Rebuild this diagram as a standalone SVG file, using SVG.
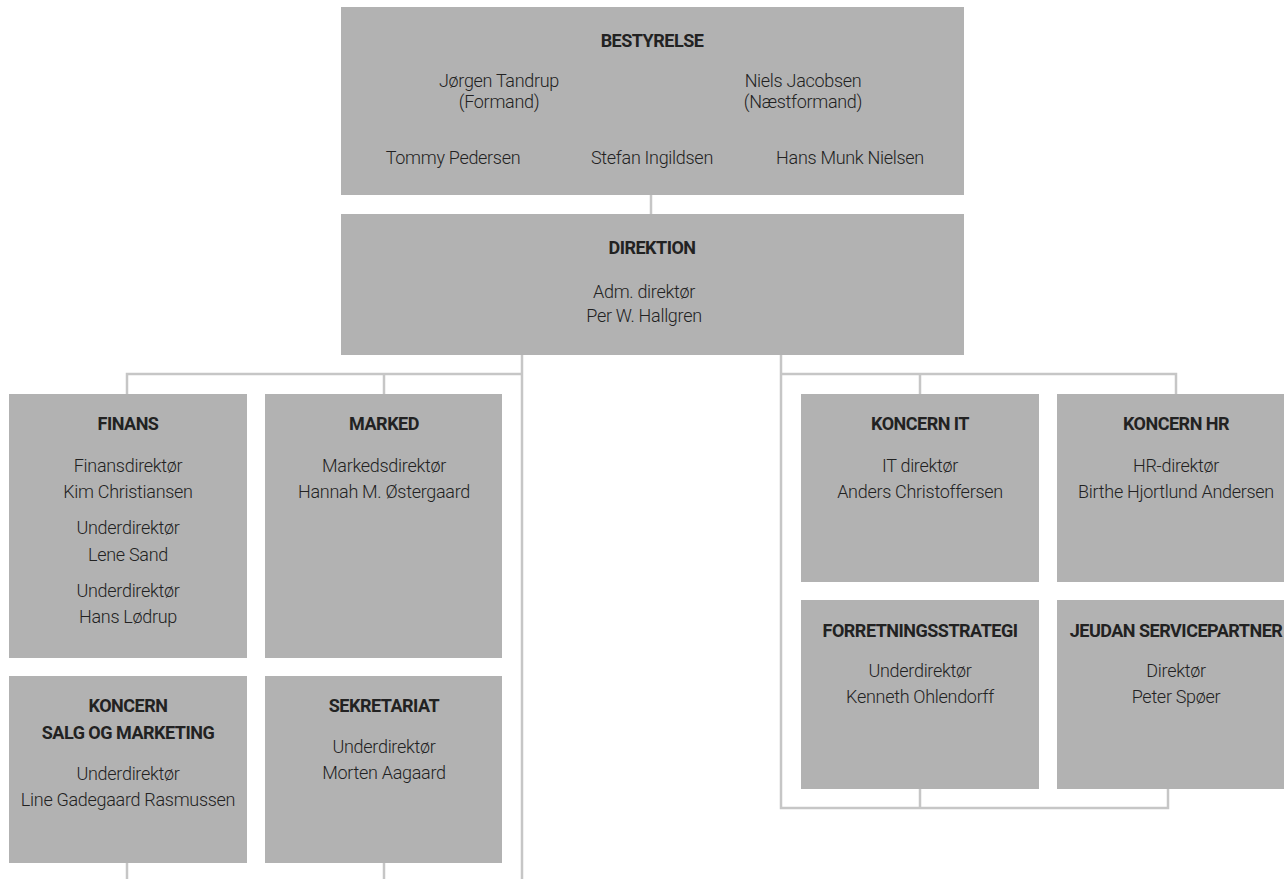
<svg xmlns="http://www.w3.org/2000/svg" width="1284" height="879" viewBox="0 0 1284 879">
<style>
.box{fill:#b2b2b2}
.ln{stroke:#c6c6c6;stroke-width:2.5;fill:none}
text{font-family:Roboto,"Liberation Sans",sans-serif;text-anchor:middle;fill:#222}
.t{font-weight:700;font-size:18px;letter-spacing:-0.5px}
.b{font-weight:300;font-size:18px;letter-spacing:-0.3px}
</style>
<rect width="1284" height="879" fill="#fff"/>
<g id="connectors">
<path class="ln" d="M651 195V214"/>
<path class="ln" d="M522 355V879M127 394V374H522M384 374V394"/>
<path class="ln" d="M127 863V879M384 863V879"/>
<path class="ln" d="M781 355V808H1168V789M920 808V789M781 374H1176V394M920 374V394"/>
</g>
<g id="bestyrelse">
<rect class="box" x="341" y="7" width="623" height="188"/>
<text class="t" x="652" y="47">BESTYRELSE</text>
<text class="b" x="499" y="87">Jørgen Tandrup</text>
<text class="b" x="499" y="108">(Formand)</text>
<text class="b" x="803" y="87">Niels Jacobsen</text>
<text class="b" x="803" y="108">(Næstformand)</text>
<text class="b" x="453" y="164">Tommy Pedersen</text>
<text class="b" x="652" y="164">Stefan Ingildsen</text>
<text class="b" x="850" y="164">Hans Munk Nielsen</text>
</g>
<g id="direktion">
<rect class="box" x="341" y="214" width="623" height="141"/>
<text class="t" x="652" y="254">DIREKTION</text>
<text class="b" x="644" y="298">Adm. direktør</text>
<text class="b" x="644" y="322">Per W. Hallgren</text>
</g>
<g id="finans">
<rect class="box" x="9" y="394" width="238" height="264"/>
<text class="t" x="128" y="430">FINANS</text>
<text class="b" x="128" y="472">Finansdirektør</text>
<text class="b" x="128" y="498">Kim Christiansen</text>
<text class="b" x="128" y="534">Underdirektør</text>
<text class="b" x="128" y="561">Lene Sand</text>
<text class="b" x="128" y="597">Underdirektør</text>
<text class="b" x="128" y="623">Hans Lødrup</text>
</g>
<g id="marked">
<rect class="box" x="265" y="394" width="237" height="264"/>
<text class="t" x="384" y="430">MARKED</text>
<text class="b" x="384" y="472">Markedsdirektør</text>
<text class="b" x="384" y="498">Hannah M. Østergaard</text>
</g>
<g id="salg">
<rect class="box" x="9" y="676" width="238" height="187"/>
<text class="t" x="128" y="712">KONCERN</text>
<text class="t" x="128" y="739">SALG OG MARKETING</text>
<text class="b" x="128" y="780">Underdirektør</text>
<text class="b" x="128" y="806">Line Gadegaard Rasmussen</text>
</g>
<g id="sekretariat">
<rect class="box" x="265" y="676" width="237" height="187"/>
<text class="t" x="384" y="712">SEKRETARIAT</text>
<text class="b" x="384" y="753">Underdirektør</text>
<text class="b" x="384" y="779">Morten Aagaard</text>
</g>
<g id="koncern-it">
<rect class="box" x="801" y="394" width="238" height="188"/>
<text class="t" x="920" y="430">KONCERN IT</text>
<text class="b" x="920" y="472">IT direktør</text>
<text class="b" x="920" y="498">Anders Christoffersen</text>
</g>
<g id="koncern-hr">
<rect class="box" x="1057" y="394" width="238" height="188"/>
<text class="t" x="1176" y="430">KONCERN HR</text>
<text class="b" x="1176" y="472">HR-direktør</text>
<text class="b" x="1176" y="498">Birthe Hjortlund Andersen</text>
</g>
<g id="forretningsstrategi">
<rect class="box" x="801" y="600" width="238" height="189"/>
<text class="t" x="920" y="637">FORRETNINGSSTRATEGI</text>
<text class="b" x="920" y="677">Underdirektør</text>
<text class="b" x="920" y="703">Kenneth Ohlendorff</text>
</g>
<g id="jeudan">
<rect class="box" x="1057" y="600" width="238" height="189"/>
<text class="t" x="1176" y="637">JEUDAN SERVICEPARTNER</text>
<text class="b" x="1176" y="677">Direktør</text>
<text class="b" x="1176" y="703">Peter Spøer</text>
</g>
</svg>
